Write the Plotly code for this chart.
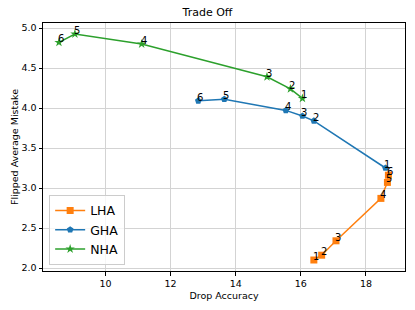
import plotly.graph_objects as go

labels = ["1", "2", "3", "4", "5", "6"]

lha_x = [16.40, 16.64, 17.08, 18.46, 18.66, 18.69]
lha_y = [2.10, 2.16, 2.34, 2.87, 3.07, 3.16]

gha_x = [18.60, 16.40, 16.05, 15.54, 13.65, 12.85]
gha_y = [3.25, 3.84, 3.90, 3.97, 4.11, 4.09]

nha_x = [16.05, 15.68, 14.96, 11.11, 9.06, 8.57]
nha_y = [4.12, 4.24, 4.39, 4.80, 4.925, 4.82]

x_ticks = [10, 12, 14, 16, 18]
y_ticks = [2.0, 2.5, 3.0, 3.5, 4.0, 4.5, 5.0]

series = [
    ("LHA", lha_x, lha_y, "#ff7f0e", "square"),
    ("GHA", gha_x, gha_y, "#1f77b4", "pentagon"),
    ("NHA", nha_x, nha_y, "#2ca02c", "star"),
]

FONT = "DejaVu Sans"
fig = go.Figure()
annotations = []
for name, xs, ys, color, sym in series:
    fig.add_trace(go.Scatter(
        x=xs, y=ys, name=name, mode="lines+markers",
        line=dict(color=color, width=1.5),
        marker=dict(symbol=sym, size=7, color=color),
    ))
    for x, y, t in zip(xs, ys, labels):
        annotations.append(dict(
            x=x, y=y, xref="x", yref="y", text=t, showarrow=False,
            xanchor="left", yanchor="bottom", xshift=-3, yshift=-4,
            font=dict(family=FONT, size=10, color="black"),
        ))

axis_common = dict(
    showline=True, linecolor="black", linewidth=1, mirror=True,
    ticks="outside", ticklen=3.5, tickcolor="black",
    showgrid=True, gridcolor="#d3d3d3", gridwidth=1,
    zeroline=False, automargin=False,
    tickfont=dict(family=FONT, size=9.5, color="black"),
)

fig.update_layout(
    width=415, height=310, autosize=False,
    margin=dict(l=43, r=10, t=23, b=39, autoexpand=False),
    paper_bgcolor="white", plot_bgcolor="white",
    title=dict(text="Trade Off", x=0.5, xanchor="center", y=0.962, yanchor="middle",
               font=dict(family=FONT, size=11, color="black")),
    xaxis=dict(range=[8.08, 19.2], tickvals=x_ticks,
               title=dict(text="Drop Accuracy", standoff=4,
                          font=dict(family=FONT, size=9.5, color="black")),
               **axis_common),
    yaxis=dict(range=[1.9625, 5.0625], tickvals=y_ticks, tickformat=".1f",
               title=dict(text="Flipped Average Mistake", standoff=1,
                          font=dict(family=FONT, size=9.5, color="black")),
               **axis_common),
    legend=dict(x=0.017, y=0.025, xanchor="left", yanchor="bottom",
                bgcolor="rgba(255,255,255,0.8)", bordercolor="#cccccc", borderwidth=1,
                font=dict(family=FONT, size=12.5, color="black"),
                itemwidth=30, tracegroupgap=0),
    annotations=annotations,
    showlegend=True,
)

fig.write_html("out.html", config={"responsive": False, "displayModeBar": False},
               post_script="document.body.style.margin='0px';document.body.style.overflow='hidden';")
